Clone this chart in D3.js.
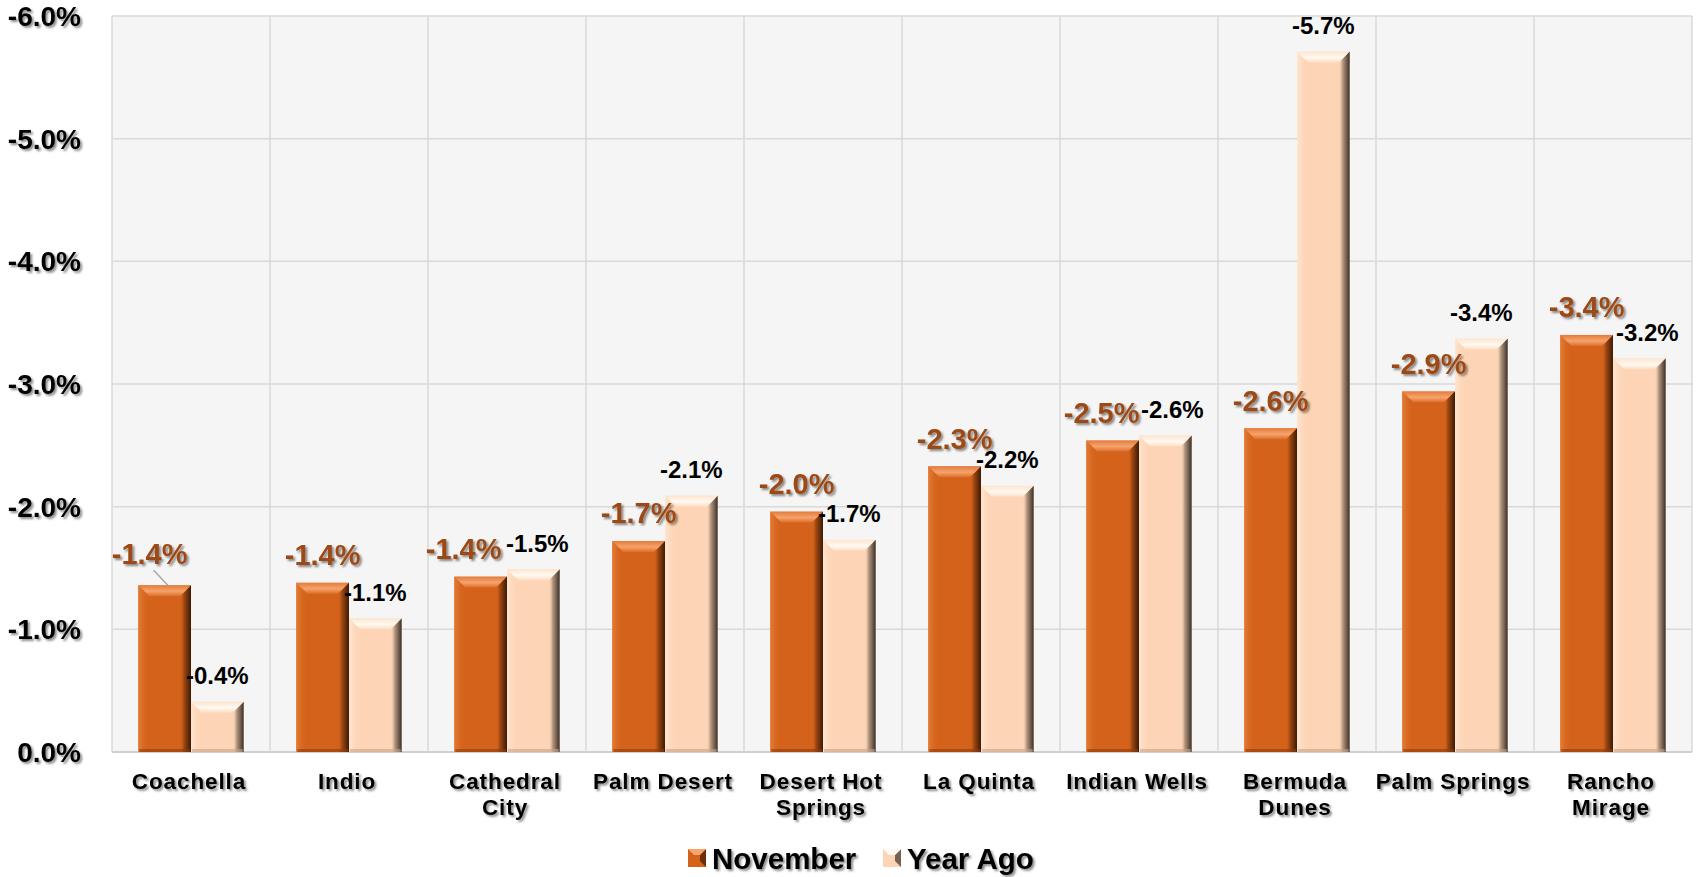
<!DOCTYPE html>
<html><head><meta charset="utf-8">
<script src="https://cdn.jsdelivr.net/npm/d3@7"></script>
<style>
html,body{margin:0;padding:0;background:#fff;}
svg{display:block;font-family:Arial,"Liberation Sans",sans-serif;}
</style></head>
<body>
<svg id="chart" width="1701" height="877"></svg>
<script>
const categories = [["Coachella"],["Indio"],["Cathedral","City"],["Palm Desert"],["Desert Hot","Springs"],["La Quinta"],["Indian Wells"],["Bermuda","Dunes"],["Palm Springs"],["Rancho","Mirage"]];
const seriesNames = ["November","Year Ago"];
const november = [-1.36,-1.38,-1.43,-1.72,-1.96,-2.33,-2.54,-2.64,-2.94,-3.40];
const yearAgo  = [-0.41,-1.09,-1.49,-2.09,-1.73,-2.17,-2.58,-5.71,-3.37,-3.21];
const novLabels = ["-1.4%","-1.4%","-1.4%","-1.7%","-2.0%","-2.3%","-2.5%","-2.6%","-2.9%","-3.4%"];
const yaLabels  = ["-0.4%","-1.1%","-1.5%","-2.1%","-1.7%","-2.2%","-2.6%","-5.7%","-3.4%","-3.2%"];
const tickValues = [0,-1,-2,-3,-4,-5,-6];
const tickLabels = ["0.0%","-1.0%","-2.0%","-3.0%","-4.0%","-5.0%","-6.0%"];

// label nudges (styling config, not data)
const novNudge = {0:[-15,-4],2:[-17,0],6:[-11,0]};
const yaNudge = {2:[4,0],6:[7,0],9:[8,0]};

const svg = d3.select("#chart");
const L=112,R=1692,T=16,B=752;
const catKeys = categories.map(c=>c.join(" "));
const x0 = d3.scaleBand().domain(catKeys).range([L,R]).padding(0);
const bw0 = x0.bandwidth();
const x1 = d3.scaleBand().domain(seriesNames).range([bw0/6, bw0*5/6]).padding(0);
const y = d3.scaleLinear().domain([0,-6]).range([B,T]);

const defs = svg.append("defs");
const f = defs.append("filter").attr("id","sh").attr("x","-20%").attr("y","-30%").attr("width","140%").attr("height","160%");
f.append("feDropShadow").attr("dx",2).attr("dy",2).attr("stdDeviation",1.3).attr("flood-color","#000").attr("flood-opacity",0.45);

function grad(id, stops, x2, y2){
  const g = defs.append("linearGradient").attr("id",id).attr("x1",0).attr("y1",0).attr("x2",x2).attr("y2",y2);
  stops.forEach(s=>g.append("stop").attr("offset",s[0]).attr("stop-color",s[1]).attr("stop-opacity",s[2]===undefined?1:s[2]));
}
const pal = {
  "November":{base:"#d4621a", top:"#f7a36c", right:"#3e1a05", left:"#e47d38", bottom:"#8e3c0c"},
  "Year Ago":{base:"#fdd5b6", top:"#fffaf2", right:"#3c3028", left:"#ffe6d2", bottom:"#c9a488"}
};
Object.entries(pal).forEach(([k,p],i)=>{
  grad("rg"+i,[[0,p.base,0],[0.35,p.right,0.35],[1,p.right,1]],1,0);
  grad("tg"+i,[[0,p.top,0.4],[0.55,p.top,1],[1,p.top,0.2]],0,1);
  grad("lg"+i,[[0,p.left,1],[1,p.base,0]],1,0);
});

// plot background
svg.append("rect").attr("x",L).attr("y",T).attr("width",R-L).attr("height",B-T).attr("fill","#f5f5f5");
// horizontal grid
svg.append("g").selectAll("line").data(tickValues).join("line")
  .attr("x1",L).attr("x2",R).attr("y1",d=>y(d)).attr("y2",d=>y(d))
  .attr("stroke","#d9d9d9").attr("stroke-width",1.5);
// vertical grid
svg.append("g").selectAll("line").data(catKeys.concat(["__end"])).join("line")
  .attr("x1",(d,i)=>L+i*bw0).attr("x2",(d,i)=>L+i*bw0).attr("y1",T).attr("y2",B)
  .attr("stroke","#d9d9d9").attr("stroke-width",1.5);
svg.append("line").attr("x1",L).attr("x2",R).attr("y1",B).attr("y2",B).attr("stroke","#d0d0d0").attr("stroke-width",2);

// y axis labels
svg.append("g").selectAll("text").data(tickValues).join("text")
  .attr("x",81).attr("y",d=>y(d)).attr("dy","0.36em").attr("text-anchor","end")
  .attr("font-size",28).attr("font-weight","bold").attr("fill","#000").attr("filter","url(#sh)")
  .text((d,i)=>tickLabels[i]);

// bars
const seriesVals = [november, yearAgo];
const bev = 11;
seriesNames.forEach((s,si)=>{
  const g = svg.append("g");
  seriesVals[si].forEach((v,i)=>{
    const bx = x0(catKeys[i]) + x1(s), w = x1.bandwidth();
    const by = y(v), h = y(0)-y(v);
    const p = pal[s];
    g.append("rect").attr("x",bx).attr("y",by).attr("width",w).attr("height",h).attr("fill",p.base);
    const b = Math.min(bev, h/2);
    g.append("polygon").attr("points",`${bx},${by} ${bx+b},${by+b} ${bx+b},${by+h} ${bx},${by+h}`).attr("fill",`url(#lg${si})`);
    g.append("polygon").attr("points",`${bx+w},${by} ${bx+w-b},${by+b} ${bx+w-b},${by+h} ${bx+w},${by+h}`).attr("fill",`url(#rg${si})`);
    g.append("polygon").attr("points",`${bx},${by} ${bx+w},${by} ${bx+w-b},${by+b} ${bx+b},${by+b}`).attr("fill",`url(#tg${si})`);
    g.append("rect").attr("x",bx+1).attr("y",by+h-3).attr("width",w-2).attr("height",3).attr("fill",p.bottom).attr("opacity",0.6);
  });
});

// data labels
november.forEach((v,i)=>{
  const cx = x0(catKeys[i]) + x1("November") + x1.bandwidth()/2;
  const n = novNudge[i]||[0,0];
  const lx = cx+n[0], ly = y(v)-28+n[1];
  if(i===0){
    svg.append("line").attr("x1",lx+4).attr("y1",ly+17).attr("x2",cx+4).attr("y2",y(v)+1)
      .attr("stroke","#a6a6a6").attr("stroke-width",1.5);
  }
  svg.append("text").attr("x",lx).attr("y",ly).attr("dy","0.36em").attr("text-anchor","middle")
    .attr("font-size",29).attr("font-weight","bold").attr("fill","#9c4a17").attr("filter","url(#sh)")
    .text(novLabels[i]);
});
yearAgo.forEach((v,i)=>{
  const cx = x0(catKeys[i]) + x1("Year Ago") + x1.bandwidth()/2;
  const n = yaNudge[i]||[0,0];
  svg.append("text").attr("x",cx+n[0]).attr("y",y(v)-26+n[1]).attr("dy","0.36em").attr("text-anchor","middle")
    .attr("font-size",24).attr("font-weight","bold").attr("fill","#000")
    .text(yaLabels[i]);
});

// category labels
categories.forEach((c,i)=>{
  const cx = x0(catKeys[i]) + bw0/2 - 2;
  const t = svg.append("text").attr("text-anchor","middle").attr("font-size",22.5).attr("font-weight","bold")
    .attr("letter-spacing",0.9).attr("fill","#000").attr("filter","url(#sh)");
  c.forEach((line,j)=>{
    t.append("tspan").attr("x",cx).attr("y",789+j*26).text(line);
  });
});

// legend
const legX = [688, 883];
seriesNames.forEach((s,si)=>{
  const p = pal[s];
  const g = svg.append("g");
  g.append("rect").attr("x",legX[si]).attr("y",849).attr("width",18).attr("height",18).attr("fill",p.base);
  g.append("polygon").attr("points",`${legX[si]+18},849 ${legX[si]+12},855 ${legX[si]+12},861 ${legX[si]+18},867`).attr("fill",p.right).attr("opacity",0.7);
  g.append("polygon").attr("points",`${legX[si]},849 ${legX[si]+18},849 ${legX[si]+12},855 ${legX[si]+6},855`).attr("fill",p.top);
  g.append("text").attr("x",legX[si]+24).attr("y",858).attr("dy","0.36em")
    .attr("font-size",29.5).attr("font-weight","bold").attr("fill","#000").attr("filter","url(#sh)").text(s);
});
</script>
</body></html>
